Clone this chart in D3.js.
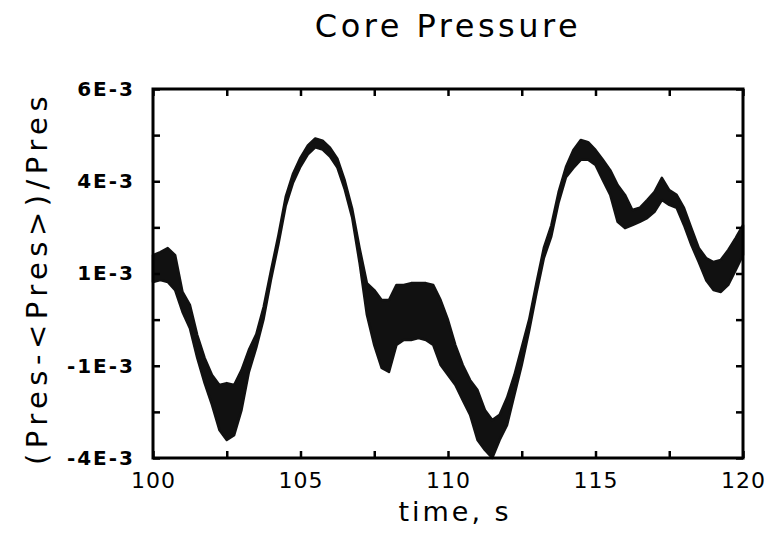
<!DOCTYPE html>
<html><head><meta charset="utf-8">
<script src="https://cdn.jsdelivr.net/npm/d3@7"></script>
<style>body{margin:0;background:#fff}</style>
</head><body><svg id="c" width="771" height="536"></svg>
<script>
// time, s
const time = [100,100.25,100.5,100.75,101,101.25,101.5,101.75,102,102.25,102.5,102.75,103,103.25,103.5,103.75,
104,104.25,104.5,104.75,105,105.25,105.5,105.75,106,106.25,106.5,106.75,107,107.25,107.5,107.75,
108,108.25,108.5,108.75,109,109.25,109.5,109.75,110,110.25,110.5,110.75,111,111.25,111.5,111.75,
112,112.25,112.5,112.75,113,113.25,113.5,113.75,114,114.25,114.5,114.75,115,115.25,115.5,115.75,
116,116.25,116.5,116.75,117,117.25,117.5,117.75,118,118.25,118.5,118.75,119,119.25,119.5,119.75,120];
// upper envelope of the traces, units of 1E-3
const upperE3 = [1.75,1.83,1.94,1.75,0.75,0.40,-0.42,-1.04,-1.50,-1.77,-1.72,-1.77,-1.37,-0.82,-0.40,0.34,
1.33,2.28,3.33,3.96,4.39,4.72,4.91,4.85,4.66,4.36,3.77,3.01,1.95,0.99,0.80,0.53,
0.53,0.94,0.94,0.99,0.99,0.99,0.94,0.53,-0.01,-0.69,-1.23,-1.64,-1.91,-2.45,-2.72,-2.58,
-2.12,-1.50,-0.75,0.00,1.00,1.95,2.55,3.46,4.14,4.60,4.87,4.81,4.60,4.33,4.05,3.65,
3.38,2.97,3.03,3.24,3.46,3.84,3.51,3.38,3.03,2.48,1.94,1.67,1.56,1.62,1.89,2.21,2.56];
// lower envelope of the traces, units of 1E-3
const lowerE3 = [1.02,1.07,1.02,0.80,0.21,-0.23,-1.04,-1.72,-2.31,-2.99,-3.26,-3.13,-2.45,-1.42,-0.76,0.02,
1.09,2.04,3.09,3.72,4.15,4.48,4.67,4.61,4.42,4.12,3.53,2.77,1.55,0.13,-0.69,-1.31,
-1.42,-0.69,-0.55,-0.55,-0.50,-0.55,-0.69,-1.23,-1.50,-1.77,-2.18,-2.58,-3.26,-3.53,-3.75,-3.26,
-2.86,-2.04,-1.23,-0.30,0.72,1.67,2.25,3.18,3.86,4.11,4.33,4.33,4.19,3.78,3.38,2.65,
2.48,2.56,2.65,2.75,2.92,3.24,3.11,3.03,2.56,2.02,1.56,1.07,0.80,0.75,0.94,1.34,1.75];

const xTicks = [100,102.5,105,107.5,110,112.5,115,117.5,120];
const xLabelVals = [100,105,110,115,120];
const yTicks = [-3.75,-2.5,-1.25,0,1.25,2.5,3.75,5,6.25];
const yLabelVals = [6.25,3.75,1.25,-1.25,-3.75];
const yLabelText = ["6E-3","4E-3","1E-3","-1E-3","-4E-3"];

const svg = d3.select("#c");
const L=153,R=743,T=89,B=458;
const x = d3.scaleLinear().domain([100,120]).range([L,R]);
const y = d3.scaleLinear().domain([-3.75,6.25]).range([B,T]);
const font = "'DejaVu Sans', sans-serif";

// data band
const idx = d3.range(time.length);
const area = d3.area().x(i=>x(time[i])).y0(i=>y(lowerE3[i])).y1(i=>y(upperE3[i]));
svg.append("path").attr("d", area(idx)).attr("fill","#111").attr("stroke","#111")
  .attr("stroke-width",2.5).attr("stroke-linejoin","round");

// ticks on all sides, inward
const tk = 7;
function noText(g){ g.selectAll("text").remove(); g.select(".domain").remove();
  g.selectAll("line").attr("stroke","#000").attr("stroke-width",2.5); }
svg.append("g").attr("transform",`translate(0,${B})`).call(d3.axisBottom(x).tickValues(xTicks).tickSize(-tk)).call(noText);
svg.append("g").attr("transform",`translate(0,${T})`).call(d3.axisTop(x).tickValues(xTicks).tickSize(-tk)).call(noText);
svg.append("g").attr("transform",`translate(${L},0)`).call(d3.axisLeft(y).tickValues(yTicks).tickSize(-tk)).call(noText);
svg.append("g").attr("transform",`translate(${R},0)`).call(d3.axisRight(y).tickValues(yTicks).tickSize(-tk)).call(noText);

// frame
svg.append("rect").attr("x",L).attr("y",T).attr("width",R-L).attr("height",B-T)
  .attr("fill","none").attr("stroke","#000").attr("stroke-width",3);

// tick labels
const gx = svg.append("g").attr("transform",`translate(0,${B})`)
  .call(d3.axisBottom(x).tickValues(xLabelVals).tickSize(0).tickPadding(14).tickFormat(d3.format("d")));
gx.select(".domain").remove();
gx.selectAll("text").attr("font-family",font).attr("font-size",22).attr("fill","#000").attr("letter-spacing",1);

const gy = svg.append("g").attr("transform",`translate(${L},0)`)
  .call(d3.axisLeft(y).tickValues(yLabelVals).tickSize(0).tickPadding(18).tickFormat((d,i)=>yLabelText[i]));
gy.select(".domain").remove();
gy.selectAll("text").attr("font-family",font).attr("font-size",20).attr("font-weight","bold").attr("fill","#000").attr("letter-spacing",2);

// titles
svg.append("text").attr("x",448).attr("y",37).attr("text-anchor","middle")
  .attr("font-family",font).attr("font-size",32).attr("letter-spacing",3.5).text("Core Pressure");
svg.append("text").attr("x",455).attr("y",521).attr("text-anchor","middle")
  .attr("font-family",font).attr("font-size",27).attr("letter-spacing",3).text("time, s");
svg.append("text").attr("transform","translate(47,278) rotate(-90)").attr("text-anchor","middle")
  .attr("font-family",font).attr("font-size",29).attr("letter-spacing",5.5).text("(Pres-<Pres>)/Pres");
</script></body></html>
